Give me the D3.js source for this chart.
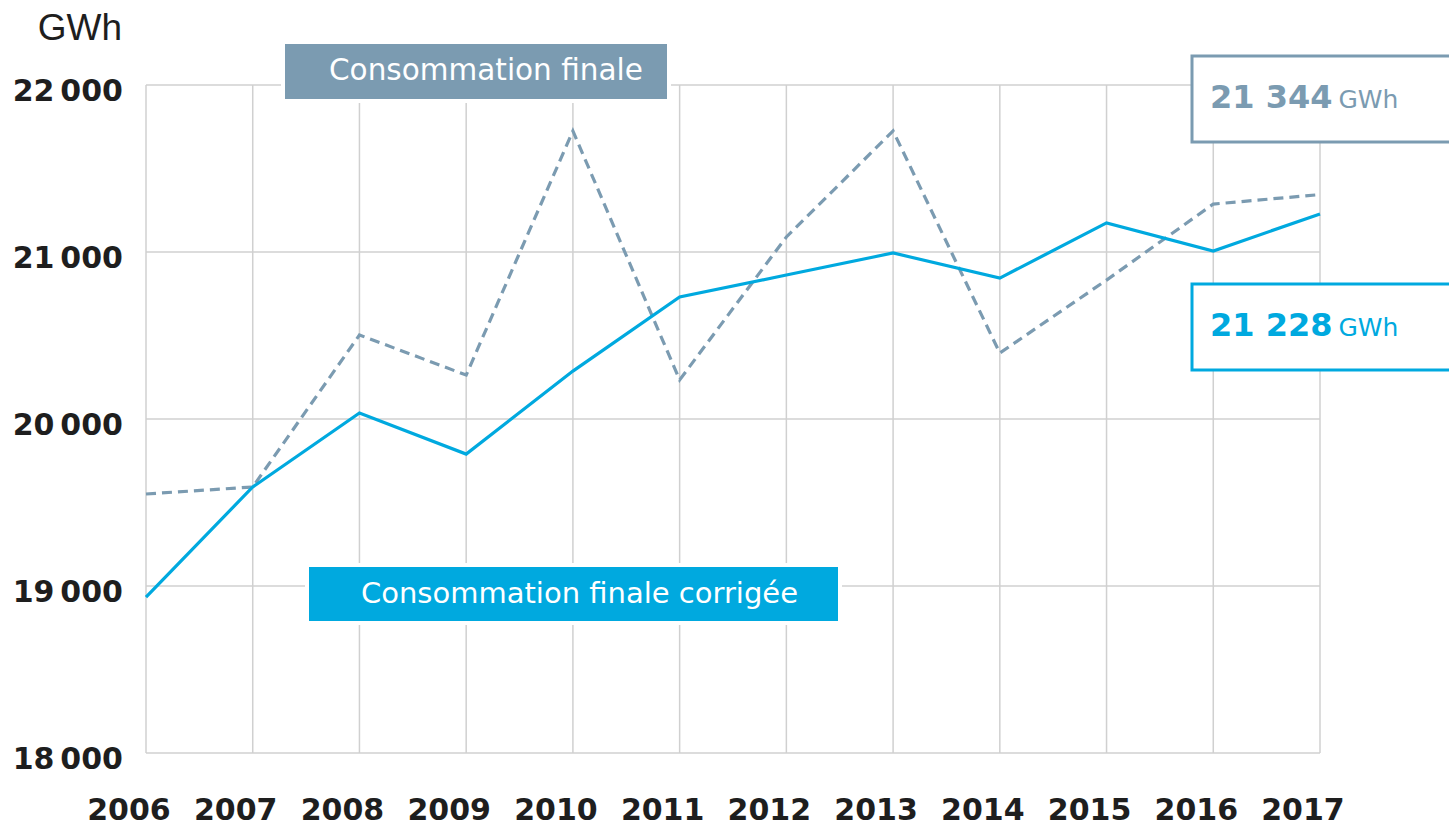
<!DOCTYPE html>
<html>
<head>
<meta charset="utf-8">
<script src="https://cdn.jsdelivr.net/npm/d3@7"></script>
<style>
  html, body { margin: 0; padding: 0; background: #fff; }
  svg { display: block; }
</style>
</head>
<body>
<div id="chart"></div>
<script>
// data (GWh)
var years = [2006, 2007, 2008, 2009, 2010, 2011, 2012, 2013, 2014, 2015, 2016, 2017];
var finale = [19551, 19593, 20503, 20263, 21725, 20234, 21090, 21725, 20395, 20832, 21287, 21344];
var corrigee = [18934, 19593, 20036, 19790, 20287, 20731, 20862, 20994, 20844, 21174, 21006, 21228];
var yTicks = [18000, 19000, 20000, 21000, 22000];

var grey = '#7b9bb1', blue = '#00a9df';
var W = 1449, H = 826;

var svg = d3.select('#chart').append('svg')
  .attr('width', W)
  .attr('height', H);

var x = d3.scalePoint().domain(years).range([146, 1320]);
var y = d3.scaleLinear().domain([18000, 22000]).range([753, 85]);

var fmt = function (v) { return d3.format(',')(v).replace(',', '\u202F'); };

// grid
var grid = svg.append('g');
grid.selectAll('line.h').data(yTicks).enter().append('line')
  .attr('x1', x(2006)).attr('x2', x(2017))
  .attr('y1', function (d) { return y(d); }).attr('y2', function (d) { return y(d); })
  .attr('stroke', '#d0d0d0').attr('stroke-width', 1.5);
grid.selectAll('line.v').data(years).enter().append('line')
  .attr('x1', function (d) { return x(d); }).attr('x2', function (d) { return x(d); })
  .attr('y1', y(22000)).attr('y2', y(18000))
  .attr('stroke', '#d0d0d0').attr('stroke-width', 1.5);

// y labels
svg.append('g').selectAll('text').data(yTicks).enter().append('text')
  .attr('x', 123)
  .attr('y', function (d) { return y(d) + 16; })
  .attr('text-anchor', 'end')
  .attr('font-family', 'DejaVu Sans')
  .attr('font-weight', 'bold')
  .attr('font-size', 30)
  .attr('fill', '#1e1e1e')
  .text(fmt);

svg.append('text')
  .attr('x', 122).attr('y', 40)
  .attr('text-anchor', 'end')
  .attr('font-family', 'Liberation Sans')
  .attr('font-size', 37)
  .attr('fill', '#1e1e1e')
  .text('GWh');

// x labels
svg.append('g').selectAll('text').data(years).enter().append('text')
  .attr('x', function (d) { return x(d) - 17; })
  .attr('y', 820)
  .attr('text-anchor', 'middle')
  .attr('font-family', 'DejaVu Sans')
  .attr('font-weight', 'bold')
  .attr('font-size', 30)
  .attr('fill', '#1e1e1e')
  .text(function (d) { return d; });

// lines
var line = d3.line()
  .x(function (d, i) { return x(years[i]); })
  .y(function (d) { return y(d); });

svg.append('path').datum(finale)
  .attr('d', line)
  .attr('fill', 'none')
  .attr('stroke', grey)
  .attr('stroke-width', 3.2)
  .attr('stroke-dasharray', '10,6');

svg.append('path').datum(corrigee)
  .attr('d', line)
  .attr('fill', 'none')
  .attr('stroke', blue)
  .attr('stroke-width', 3.2);

// series name boxes
svg.append('rect')
  .attr('x', 283).attr('y', 42).attr('width', 386).attr('height', 59)
  .attr('fill', grey).attr('stroke', '#fff').attr('stroke-width', 4);
svg.append('text')
  .attr('x', 329).attr('y', 80)
  .attr('font-family', 'DejaVu Sans')
  .attr('font-size', 29.5)
  .attr('fill', '#fff')
  .text('Consommation finale');

svg.append('rect')
  .attr('x', 307).attr('y', 565).attr('width', 533).attr('height', 58)
  .attr('fill', blue).attr('stroke', '#fff').attr('stroke-width', 4);
svg.append('text')
  .attr('x', 361).attr('y', 603)
  .attr('font-family', 'DejaVu Sans')
  .attr('font-size', 29)
  .attr('fill', '#fff')
  .text('Consommation finale corrigée');

// last value boxes
function valueBox(top, val, col) {
  svg.append('rect')
    .attr('x', 1192).attr('y', top).attr('width', 270).attr('height', 86)
    .attr('fill', '#fff').attr('stroke', col).attr('stroke-width', 3);
  var t = svg.append('text')
    .attr('x', 1210).attr('y', top + 52)
    .attr('font-family', 'DejaVu Sans')
    .attr('fill', col);
  t.append('tspan').attr('font-weight', 'bold').attr('font-size', 32)
    .text(d3.format(',')(val).replace(',', ' '));
  t.append('tspan').attr('font-size', 25).attr('dx', 6).text('GWh');
}
valueBox(56, finale[finale.length - 1], grey);
valueBox(284, corrigee[corrigee.length - 1], blue);
</script>
</body>
</html>
